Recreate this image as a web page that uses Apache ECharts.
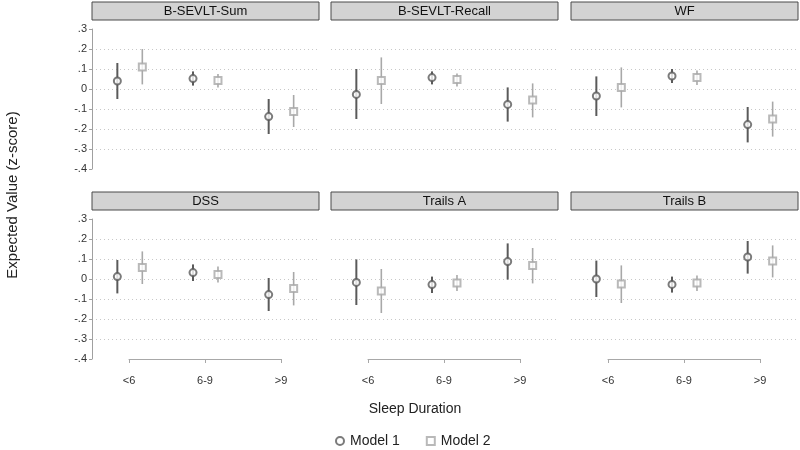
<!DOCTYPE html>
<html>
<head>
<meta charset="utf-8">
<script src="https://cdn.jsdelivr.net/npm/echarts@6/dist/echarts.min.js"></script>
<style>
  html, body { margin: 0; padding: 0; background: #fff; }
  #main { width: 800px; height: 450px; }
</style>
</head>
<body>
<div id="main"></div>
<script>
// sleep duration groups and outcome panels
var categories = ['<6', '6-9', '>9'];
var panels = ['B-SEVLT-Sum', 'B-SEVLT-Recall', 'WF', 'DSS', 'Trails A', 'Trails B'];
var yTickLabels = ['-.4', '-.3', '-.2', '-.1', '0', '.1', '.2', '.3'];
var seriesNames = ['Model 1', 'Model 2'];

// Model 1 estimates and 95% CI per panel (order of categories)
var m1Est = [[0.04, 0.052, -0.138], [-0.027, 0.057, -0.077], [-0.035, 0.065, -0.178],
             [0.012, 0.032, -0.078], [-0.017, -0.028, 0.087], [0.0, -0.027, 0.11]];
var m1Lo  = [[-0.05, 0.017, -0.225], [-0.15, 0.023, -0.163], [-0.135, 0.03, -0.267],
             [-0.072, -0.01, -0.16], [-0.13, -0.07, -0.003], [-0.09, -0.068, 0.027]];
var m1Hi  = [[0.13, 0.088, -0.05], [0.10, 0.088, 0.008], [0.063, 0.10, -0.09],
             [0.095, 0.073, 0.005], [0.098, 0.012, 0.178], [0.092, 0.012, 0.19]];

// Model 2 estimates and 95% CI
var m2Est = [[0.11, 0.042, -0.112], [0.043, 0.048, -0.055], [0.008, 0.057, -0.15],
             [0.057, 0.022, -0.047], [-0.06, -0.02, 0.068], [-0.025, -0.02, 0.09]];
var m2Lo  = [[0.023, 0.007, -0.19], [-0.075, 0.013, -0.142], [-0.092, 0.02, -0.238],
             [-0.025, -0.018, -0.132], [-0.17, -0.06, -0.022], [-0.12, -0.06, 0.008]];
var m2Hi  = [[0.20, 0.075, -0.03], [0.158, 0.078, 0.028], [0.108, 0.093, -0.063],
             [0.138, 0.062, 0.035], [0.05, 0.02, 0.155], [0.068, 0.018, 0.168]];

var FONT = '"Liberation Sans", Arial, sans-serif';
var colLeft = [92, 331, 571];
var colWidth = 227;
var rowTop = [29, 219];
var plotH = 140;
var dodge = 0.165;
var colors = ['#5a5a5a', '#a8a8a8'];

var grids = [], xAxes = [], yAxes = [], series = [], graphics = [];

panels.forEach(function (name, p) {
  var col = p % 3, row = Math.floor(p / 3);
  grids.push({ left: colLeft[col], top: rowTop[row], width: colWidth, height: plotH });
  xAxes.push({
    gridIndex: p, type: 'value', min: 0.5, max: 3.5,
    axisLine: { show: false }, axisTick: { show: false }, axisLabel: { show: false },
    splitLine: { show: false }
  });
  yAxes.push({
    gridIndex: p, type: 'value', min: -0.4, max: 0.3, interval: 0.1,
    axisLine: { show: col === 0, lineStyle: { color: '#a0a0a0', width: 1 } },
    axisTick: { show: col === 0, length: 3, lineStyle: { color: '#a0a0a0' } },
    axisLabel: {
      show: col === 0, fontSize: 11, color: '#333', fontFamily: FONT, margin: 5,
      formatter: function (v) { return yTickLabels[Math.round((v + 0.4) * 10)]; }
    },
    splitLine: {
      show: true, showMinLine: false, showMaxLine: false,
      lineStyle: { color: '#c8c8c8', type: [1, 3], width: 1 }
    }
  });

  [[m1Est, m1Lo, m1Hi, -dodge], [m2Est, m2Lo, m2Hi, dodge]].forEach(function (m, k) {
    var bars = [], pts = [];
    categories.forEach(function (c, i) {
      var x = i + 1 + m[3];
      bars.push([x, m[1][p][i], m[2][p][i]]);
      pts.push([x, m[0][p][i]]);
    });
    series.push({
      type: 'custom', xAxisIndex: p, yAxisIndex: p, silent: true, z: 2,
      data: bars,
      encode: { x: 0, y: [1, 2] },
      renderItem: function (params, api) {
        var a = api.coord([api.value(0), api.value(1)]);
        var b = api.coord([api.value(0), api.value(2)]);
        return {
          type: 'line',
          shape: { x1: a[0], y1: a[1], x2: b[0], y2: b[1] },
          style: { stroke: colors[k], lineWidth: k === 0 ? 2 : 1.6 }
        };
      }
    });
    series.push({
      type: 'scatter', name: seriesNames[k], xAxisIndex: p, yAxisIndex: p, z: 3,
      symbol: k === 0 ? 'emptyCircle' : 'emptyRect',
      symbolSize: 7,
      itemStyle: { color: colors[k], borderWidth: 1.3 },
      data: pts
    });
  });

  // strip title
  graphics.push({
    type: 'rect',
    shape: { x: colLeft[col], y: rowTop[row] - 27, width: colWidth, height: 18 },
    style: { fill: '#d3d3d3', stroke: '#4a4a4a', lineWidth: 1 }
  });
  graphics.push({
    type: 'text', x: colLeft[col] + colWidth / 2, y: rowTop[row] - 18,
    style: { text: name, fill: '#111', font: '13px ' + FONT, align: 'center', verticalAlign: 'middle' }
  });
});

// bracket x axes for the bottom row
[0, 1, 2].forEach(function (col) {
  var gi = grids.length;
  grids.push({ left: colLeft[col] + 37, top: rowTop[1], width: 152, height: plotH });
  xAxes.push({
    gridIndex: gi, type: 'value', min: 1, max: 3, interval: 1, offset: 9,
    axisLine: { show: true, lineStyle: { color: '#a8a8a8', width: 1 } },
    axisTick: { show: true, length: 4, lineStyle: { color: '#a8a8a8' } },
    axisLabel: {
      fontSize: 11, color: '#333', fontFamily: FONT, margin: 7,
      formatter: function (v) { return categories[Math.round(v) - 1]; }
    },
    splitLine: { show: false }
  });
  yAxes.push({ gridIndex: gi, type: 'value', show: false, min: 0, max: 1 });
});

graphics.push({
  type: 'text', x: 13, y: 195, rotation: Math.PI / 2,
  style: { text: 'Expected Value (z-score)', fill: '#222', font: '15px ' + FONT,
           align: 'center', verticalAlign: 'middle' }
});
graphics.push({
  type: 'text', x: 415, y: 409,
  style: { text: 'Sleep Duration', fill: '#222', font: '14px ' + FONT,
           align: 'center', verticalAlign: 'middle' }
});

var chart = echarts.init(document.getElementById('main'), null, { renderer: 'canvas' });
chart.setOption({
  animation: false,
  backgroundColor: '#fff',
  textStyle: { fontFamily: FONT },
  grid: grids,
  xAxis: xAxes,
  yAxis: yAxes,
  legend: {
    data: seriesNames, left: 330, top: 429, itemWidth: 8, itemHeight: 8, itemGap: 26,
    textStyle: { fontSize: 14, color: '#222', fontFamily: FONT, padding: [0, 0, 0, 1] }
  },
  graphic: graphics,
  series: series
});
</script>
</body>
</html>
